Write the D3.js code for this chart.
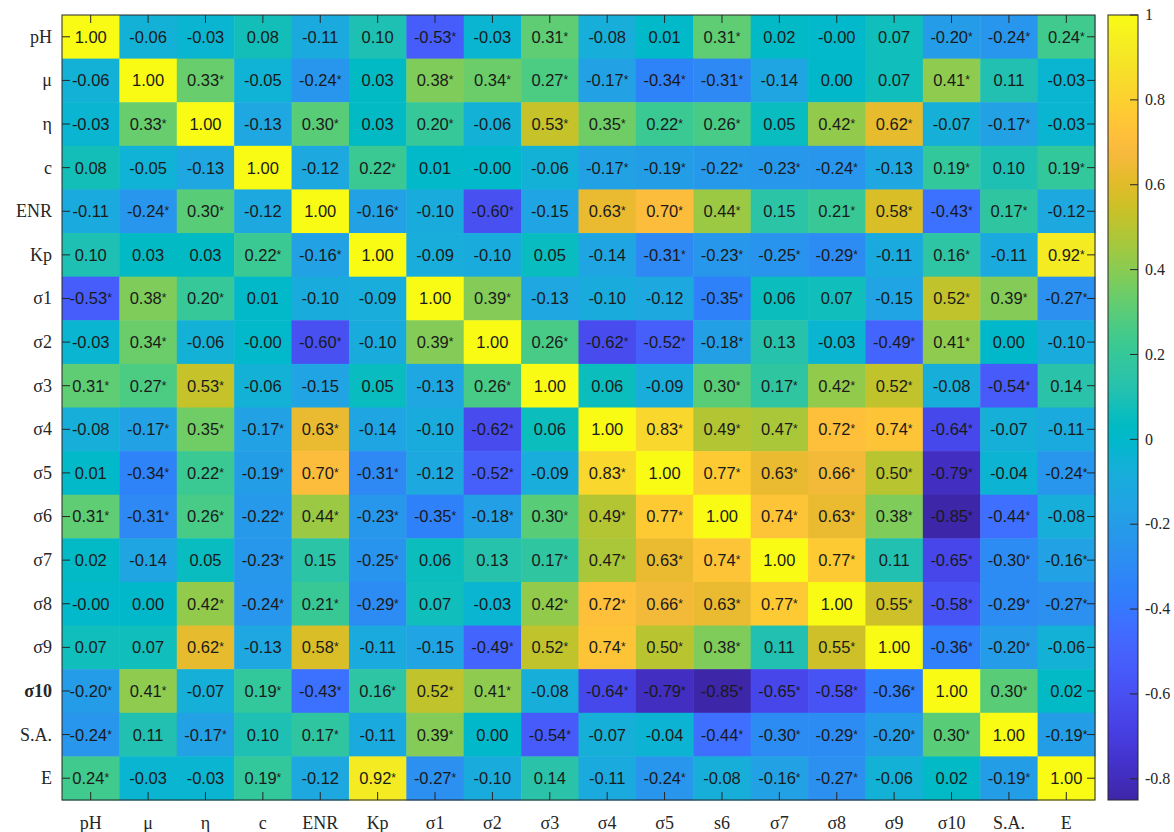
<!DOCTYPE html>
<html><head><meta charset="utf-8">
<script src="https://cdn.jsdelivr.net/npm/d3@7"></script>
<style>body{margin:0;background:#fff} svg{display:block}</style>
</head><body><svg id="c" width="1174" height="832"></svg>
<script>
const xLabels = ["pH","μ","η","c","ENR","Kp","σ1","σ2","σ3","σ4","σ5","s6","σ7","σ8","σ9","σ10","S.A.","E"];
const yLabels = ["pH","μ","η","c","ENR","Kp","σ1","σ2","σ3","σ4","σ5","σ6","σ7","σ8","σ9","σ10","S.A.","E"];

const values = [
 [1.00,-0.06,-0.03,0.08,-0.11,0.10,-0.53,-0.03,0.31,-0.08,0.01,0.31,0.02,-0.001,0.07,-0.20,-0.24,0.24],
 [-0.06,1.00,0.33,-0.05,-0.24,0.03,0.38,0.34,0.27,-0.17,-0.34,-0.31,-0.14,0.00,0.07,0.41,0.11,-0.03],
 [-0.03,0.33,1.00,-0.13,0.30,0.03,0.20,-0.06,0.53,0.35,0.22,0.26,0.05,0.42,0.62,-0.07,-0.17,-0.03],
 [0.08,-0.05,-0.13,1.00,-0.12,0.22,0.01,-0.001,-0.06,-0.17,-0.19,-0.22,-0.23,-0.24,-0.13,0.19,0.10,0.19],
 [-0.11,-0.24,0.30,-0.12,1.00,-0.16,-0.10,-0.60,-0.15,0.63,0.70,0.44,0.15,0.21,0.58,-0.43,0.17,-0.12],
 [0.10,0.03,0.03,0.22,-0.16,1.00,-0.09,-0.10,0.05,-0.14,-0.31,-0.23,-0.25,-0.29,-0.11,0.16,-0.11,0.92],
 [-0.53,0.38,0.20,0.01,-0.10,-0.09,1.00,0.39,-0.13,-0.10,-0.12,-0.35,0.06,0.07,-0.15,0.52,0.39,-0.27],
 [-0.03,0.34,-0.06,-0.001,-0.60,-0.10,0.39,1.00,0.26,-0.62,-0.52,-0.18,0.13,-0.03,-0.49,0.41,0.00,-0.10],
 [0.31,0.27,0.53,-0.06,-0.15,0.05,-0.13,0.26,1.00,0.06,-0.09,0.30,0.17,0.42,0.52,-0.08,-0.54,0.14],
 [-0.08,-0.17,0.35,-0.17,0.63,-0.14,-0.10,-0.62,0.06,1.00,0.83,0.49,0.47,0.72,0.74,-0.64,-0.07,-0.11],
 [0.01,-0.34,0.22,-0.19,0.70,-0.31,-0.12,-0.52,-0.09,0.83,1.00,0.77,0.63,0.66,0.50,-0.79,-0.04,-0.24],
 [0.31,-0.31,0.26,-0.22,0.44,-0.23,-0.35,-0.18,0.30,0.49,0.77,1.00,0.74,0.63,0.38,-0.85,-0.44,-0.08],
 [0.02,-0.14,0.05,-0.23,0.15,-0.25,0.06,0.13,0.17,0.47,0.63,0.74,1.00,0.77,0.11,-0.65,-0.30,-0.16],
 [-0.001,0.00,0.42,-0.24,0.21,-0.29,0.07,-0.03,0.42,0.72,0.66,0.63,0.77,1.00,0.55,-0.58,-0.29,-0.27],
 [0.07,0.07,0.62,-0.13,0.58,-0.11,-0.15,-0.49,0.52,0.74,0.50,0.38,0.11,0.55,1.00,-0.36,-0.20,-0.06],
 [-0.20,0.41,-0.07,0.19,-0.43,0.16,0.52,0.41,-0.08,-0.64,-0.79,-0.85,-0.65,-0.58,-0.36,1.00,0.30,0.02],
 [-0.24,0.11,-0.17,0.10,0.17,-0.11,0.39,0.00,-0.54,-0.07,-0.04,-0.44,-0.30,-0.29,-0.20,0.30,1.00,-0.19],
 [0.24,-0.03,-0.03,0.19,-0.12,0.92,-0.27,-0.10,0.14,-0.11,-0.24,-0.08,-0.16,-0.27,-0.06,0.02,-0.19,1.00]
];

const significant = [
 [0,0,0,0,0,0,1,0,1,0,0,1,0,0,0,1,1,1],
 [0,0,1,0,1,0,1,1,1,1,1,1,0,0,0,1,0,0],
 [0,1,0,0,1,0,1,0,1,1,1,1,0,1,1,0,1,0],
 [0,0,0,0,0,1,0,0,0,1,1,1,1,1,0,1,0,1],
 [0,1,1,0,0,1,0,1,0,1,1,1,0,1,1,1,1,0],
 [0,0,0,1,1,0,0,0,0,0,1,1,1,1,0,1,0,1],
 [1,1,1,0,0,0,0,1,0,0,0,1,0,0,0,1,1,1],
 [0,1,0,0,1,0,1,0,1,1,1,1,0,0,1,1,0,0],
 [1,1,1,0,0,0,0,1,0,0,0,1,1,1,1,0,1,0],
 [0,1,1,1,1,0,0,1,0,0,1,1,1,1,1,1,0,0],
 [0,1,1,1,1,1,0,1,0,1,0,1,1,1,1,1,0,1],
 [1,1,1,1,1,1,1,1,1,1,1,0,1,1,1,1,1,0],
 [0,0,0,1,0,1,0,0,1,1,1,1,0,1,0,1,1,1],
 [0,0,1,1,1,1,0,0,1,1,1,1,1,0,1,1,1,1],
 [0,0,1,0,1,0,0,1,1,1,1,1,0,1,0,1,1,0],
 [1,1,0,1,1,1,1,1,0,1,1,1,1,1,1,0,1,0],
 [1,0,1,0,1,0,1,0,1,0,0,1,1,1,1,1,0,1],
 [1,0,0,1,0,1,1,0,0,0,1,0,1,1,0,0,1,0]
];

const colorDomain = [-0.85, 1];
const colorbarTicks = [1,0.8,0.6,0.4,0.2,0,-0.2,-0.4,-0.6,-0.8];

const parula = [
[0.2422,0.1504,0.6603],[0.2504,0.1650,0.7076],[0.2578,0.1818,0.7511],[0.2647,0.1978,0.7952],
[0.2706,0.2147,0.8364],[0.2751,0.2342,0.8710],[0.2783,0.2559,0.8991],[0.2803,0.2782,0.9221],
[0.2813,0.3006,0.9414],[0.2810,0.3228,0.9579],[0.2795,0.3447,0.9717],[0.2760,0.3667,0.9829],
[0.2699,0.3892,0.9906],[0.2602,0.4123,0.9952],[0.2440,0.4358,0.9988],[0.2206,0.4603,0.9973],
[0.1963,0.4847,0.9892],[0.1834,0.5074,0.9798],[0.1786,0.5289,0.9682],[0.1764,0.5499,0.9520],
[0.1687,0.5703,0.9359],[0.1540,0.5902,0.9218],[0.1460,0.6091,0.9079],[0.1380,0.6276,0.8973],
[0.1248,0.6459,0.8883],[0.1113,0.6635,0.8763],[0.0952,0.6798,0.8598],[0.0689,0.6948,0.8394],
[0.0297,0.7082,0.8163],[0.0036,0.7203,0.7917],[0.0067,0.7312,0.7660],[0.0433,0.7411,0.7394],
[0.0964,0.7500,0.7120],[0.1408,0.7584,0.6842],[0.1717,0.7670,0.6554],[0.1938,0.7758,0.6251],
[0.2161,0.7843,0.5923],[0.2470,0.7918,0.5567],[0.2906,0.7973,0.5188],[0.3406,0.8008,0.4789],
[0.3909,0.8029,0.4354],[0.4456,0.8024,0.3909],[0.5044,0.7993,0.3480],[0.5616,0.7942,0.3045],
[0.6174,0.7876,0.2612],[0.6720,0.7793,0.2227],[0.7242,0.7698,0.1910],[0.7738,0.7598,0.1646],
[0.8203,0.7498,0.1535],[0.8634,0.7406,0.1596],[0.9035,0.7330,0.1774],[0.9393,0.7288,0.2100],
[0.9728,0.7298,0.2394],[0.9956,0.7434,0.2371],[0.9970,0.7659,0.2199],[0.9952,0.7893,0.2028],
[0.9892,0.8136,0.1885],[0.9786,0.8386,0.1766],[0.9676,0.8639,0.1643],[0.9610,0.8890,0.1537],
[0.9597,0.9135,0.1423],[0.9628,0.9373,0.1265],[0.9691,0.9606,0.1064],[0.9769,0.9839,0.0805]
].map(c => d3.rgb(c[0]*255, c[1]*255, c[2]*255).formatHex());

// layout
const plot = {x0: 62, x1: 1095, y0: 15, y1: 800};
const cbar = {x0: 1108, x1: 1138};
const axisColor = "#262626";
const tickLen = 8;

const svg = d3.select("#c");
const x = d3.scaleBand().domain(d3.range(xLabels.length)).range([plot.x0, plot.x1]);
const y = d3.scaleBand().domain(d3.range(yLabels.length)).range([plot.y0, plot.y1]);

const color = d3.scaleLinear()
  .domain(parula.map((_, i) => colorDomain[0] + i * (colorDomain[1] - colorDomain[0]) / (parula.length - 1)))
  .range(parula)
  .interpolate(d3.interpolateRgb)
  .clamp(true);

const cells = [];
values.forEach((row, i) => row.forEach((v, j) => cells.push({i, j, v, s: significant[i][j]})));

svg.append("g").selectAll("rect").data(cells).join("rect")
  .attr("x", d => x(d.j)).attr("y", d => y(d.i))
  .attr("width", x.bandwidth() + 0.5).attr("height", y.bandwidth() + 0.5)
  .attr("fill", d => color(d.v));

const sans = "'Liberation Sans', Arial, Helvetica, sans-serif";
const cellText = svg.append("g").selectAll("text").data(cells).join("text")
  .attr("x", d => x(d.j) + x.bandwidth() / 2)
  .attr("y", d => y(d.i) + y.bandwidth() / 2)
  .attr("dy", "0.36em")
  .attr("text-anchor", "middle")
  .attr("font-family", sans)
  .attr("font-size", 16.5)
  .attr("fill", "#1a1a1a");
cellText.append("tspan").text(d => d.v.toFixed(2));
cellText.filter(d => d.s).append("tspan")
  .attr("font-size", 12).attr("dy", -2).text("*");

// axes
const gAx = svg.append("g").attr("stroke", axisColor).attr("stroke-width", 1);
const ticksX = d3.range(xLabels.length);
const ticksY = d3.range(yLabels.length);
gAx.selectAll("line.tb").data(ticksX).join("line").attr("class", "tb")
  .attr("x1", d => x(d) + x.bandwidth() / 2).attr("x2", d => x(d) + x.bandwidth() / 2)
  .attr("y1", plot.y1).attr("y2", plot.y1 - tickLen);
gAx.selectAll("line.tt").data(ticksX).join("line").attr("class", "tt")
  .attr("x1", d => x(d) + x.bandwidth() / 2).attr("x2", d => x(d) + x.bandwidth() / 2)
  .attr("y1", plot.y0).attr("y2", plot.y0 + tickLen);
gAx.selectAll("line.tl").data(ticksY).join("line").attr("class", "tl")
  .attr("y1", d => y(d) + y.bandwidth() / 2).attr("y2", d => y(d) + y.bandwidth() / 2)
  .attr("x1", plot.x0).attr("x2", plot.x0 + tickLen);
gAx.selectAll("line.tr").data(ticksY).join("line").attr("class", "tr")
  .attr("y1", d => y(d) + y.bandwidth() / 2).attr("y2", d => y(d) + y.bandwidth() / 2)
  .attr("x1", plot.x1).attr("x2", plot.x1 - tickLen);
gAx.append("rect").attr("x", plot.x0).attr("y", plot.y0)
  .attr("width", plot.x1 - plot.x0).attr("height", plot.y1 - plot.y0).attr("fill", "none");

const serif = "'Liberation Serif', 'Times New Roman', Times, serif";
svg.append("g").selectAll("text").data(xLabels).join("text")
  .attr("x", (d, i) => x(i) + x.bandwidth() / 2).attr("y", 829)
  .attr("text-anchor", "middle").attr("font-family", serif).attr("font-size", 18)
  .attr("fill", axisColor).text(d => d);
svg.append("g").selectAll("text").data(yLabels).join("text")
  .attr("x", plot.x0 - 10).attr("y", (d, i) => y(i) + y.bandwidth() / 2).attr("dy", "0.33em")
  .attr("text-anchor", "end").attr("font-family", serif).attr("font-size", 18)
  .attr("font-weight", d => d === "σ10" ? "bold" : "normal")
  .attr("fill", axisColor).text(d => d);

// colorbar
const cy = d3.scaleLinear().domain(colorDomain).range([plot.y1, plot.y0]);
const defs = svg.append("defs");
const grad = defs.append("linearGradient").attr("id", "cb")
  .attr("x1", 0).attr("y1", 1).attr("x2", 0).attr("y2", 0);
grad.selectAll("stop").data(parula).join("stop")
  .attr("offset", (d, i) => i / (parula.length - 1)).attr("stop-color", d => d);
svg.append("rect").attr("x", cbar.x0).attr("y", plot.y0)
  .attr("width", cbar.x1 - cbar.x0).attr("height", plot.y1 - plot.y0)
  .attr("fill", "url(#cb)").attr("stroke", axisColor).attr("stroke-width", 1);
const gCb = svg.append("g");
gCb.selectAll("line").data(colorbarTicks).join("line")
  .attr("x1", cbar.x1 - 8).attr("x2", cbar.x1)
  .attr("y1", d => cy(d)).attr("y2", d => cy(d))
  .attr("stroke", axisColor).attr("stroke-width", 1);
gCb.selectAll("text").data(colorbarTicks).join("text")
  .attr("x", cbar.x1 + 7).attr("y", d => cy(d)).attr("dy", "0.33em")
  .attr("font-family", serif).attr("font-size", 16).attr("fill", axisColor)
  .text(d => d3.format("")(d).replace("−", "-"));
</script>
</body></html>
